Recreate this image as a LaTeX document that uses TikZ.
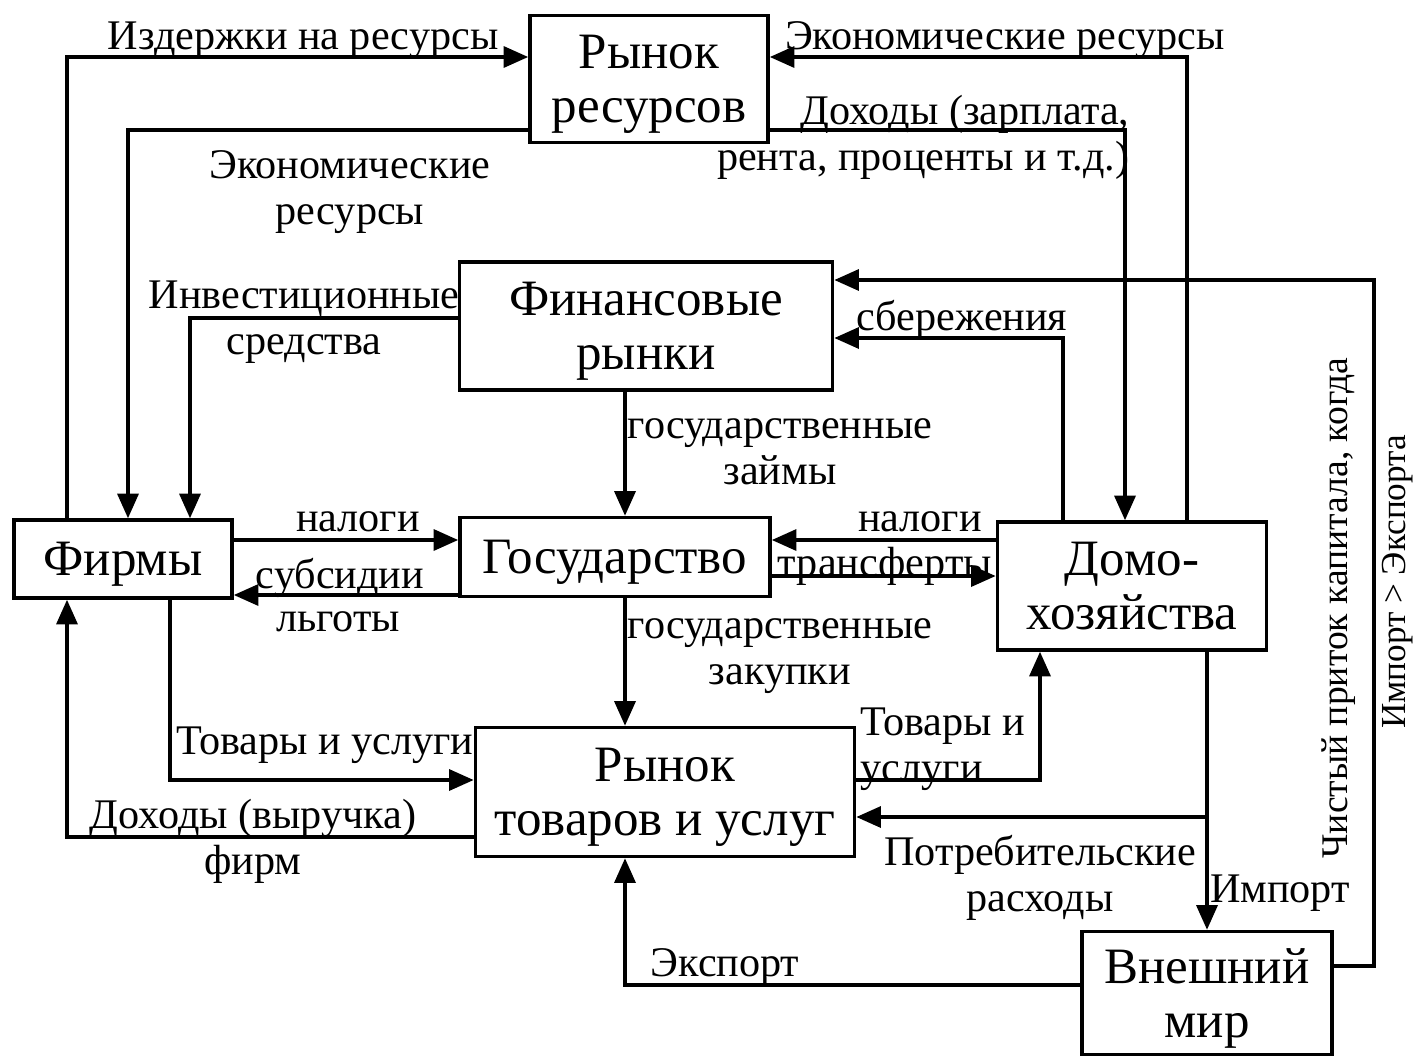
\documentclass[tikz,border=0pt]{standalone}
\usepackage{fontspec}
\setmainfont{Liberation Serif}
\usetikzlibrary{arrows.meta}

\begin{document}
\begin{tikzpicture}[x=0.01cm,y=-0.01cm,
  box/.style={draw,line width=1pt,align=center,inner sep=0pt,text depth=-4pt,font=\fontsize{14.5}{15.5}\selectfont},
  flow/.style={line width=0.9pt,-{Triangle[length=7pt,width=6pt]}},
  lbl/.style={align=center,inner sep=0pt,font=\fontsize{12}{13}\selectfont},
  side/.style={inner sep=0pt,rotate=90,font=\fontsize{10.7}{12}\selectfont}]
\useasboundingbox (0,0) rectangle (1418,1057);
% Markets and sectors
\node[box,minimum width=2.38cm,minimum height=1.27cm] (resmkt) at (649,79) {Рынок\\ресурсов};
\node[box,minimum width=3.73cm,minimum height=1.28cm] (finmkt) at (646,326) {Финансовые\\рынки};
\node[box,minimum width=2.18cm,minimum height=0.78cm] (firms) at (123,559) {Фирмы};
\node[box,minimum width=3.10cm,minimum height=0.79cm] (gov) at (615,557) {Государство};
\node[box,minimum width=2.69cm,minimum height=1.28cm] (house) at (1132,586) {Домо-\\хозяйства};
\node[box,minimum width=3.79cm,minimum height=1.29cm] (goods) at (665,792) {Рынок\\товаров и услуг};
\node[box,minimum width=2.50cm,minimum height=1.23cm] (world) at (1207,993) {Внешний\\мир};
% Bends of the flows
\coordinate (b1) at (67,57);
\coordinate (b2) at (128,130);
\coordinate (b3) at (1187,57);
\coordinate (b4) at (1125,130);
\coordinate (b5) at (190,318);
\coordinate (b6) at (1063,338);
\coordinate (b7) at (1374,966);
\coordinate (b8) at (1374,280);
\coordinate (mid) at (625,0);
\coordinate (t1) at (0,540);
\coordinate (t2) at (0,595);
\coordinate (t3) at (0,576);
\coordinate (b9) at (170,780);
\coordinate (b10) at (67,837);
\coordinate (b11) at (1040,780);
\coordinate (b12) at (1207,817);
\coordinate (b13) at (625,985);
% Resource market
\draw[flow] (firms.north -| b1) |- (resmkt.west |- b1);
\draw[flow] (resmkt.west |- b2) -| (firms.north -| b2);
\draw[flow] (house.north -| b3) |- (resmkt.east |- b3);
\draw[flow] (resmkt.east |- b4) -| (house.north -| b4);
% Financial markets
\draw[flow] (finmkt.west |- b5) -| (firms.north -| b5);
\draw[flow] (house.north -| b6) |- (finmkt.east |- b6);
\draw[flow] (world.east |- b7) -- (b7) -- (b8) -- (finmkt.east |- b8);
\draw[flow] (finmkt.south -| mid) -- (gov.north -| mid);
% Government
\draw[flow] (firms.east |- t1) -- (gov.west |- t1);
\draw[flow] (gov.west |- t2) -- (firms.east |- t2);
\draw[flow] (house.west |- t1) -- (gov.east |- t1);
\draw[flow] (gov.east |- t3) -- (house.west |- t3);
\draw[flow] (gov.south -| mid) -- (goods.north -| mid);
% Goods market
\draw[flow] (firms.south -| b9) |- (goods.west |- b9);
\draw[flow] (goods.west |- b10) -| (firms.south -| b10);
\draw[flow] (goods.east |- b11) -| (house.south -| b11);
\draw[flow] (house.south -| b12) |- (goods.east |- b12);
\draw[flow] (b12) -- (world.north -| b12);
\draw[flow] (world.west |- b13) -| (goods.south -| b13);
% Labels of the flows
\node[lbl] at (303,40) {Издержки на ресурсы};
\node[lbl] at (1005,40) {Экономические ресурсы};
\node[lbl,align=right,anchor=east] at (1130,137) {Доходы (зарплата,\\рента, проценты и т.д.)};
\node[lbl] at (350,192) {Экономические\\ресурсы};
\node[lbl] at (304,322) {Инвестиционные\\средства};
\node[lbl] at (962,320) {сбережения};
\node[lbl] at (780,452) {государственные\\займы};
\node[lbl] at (358,522) {налоги};
\node[lbl] at (340,578) {субсидии};
\node[lbl] at (338,622) {льготы};
\node[lbl] at (920,522) {налоги};
\node[lbl] at (885,566) {трансферты};
\node[lbl] at (780,656) {государственные\\закупки};
\node[lbl] at (325,745) {Товары и услуги};
\node[lbl] at (253,841) {Доходы (выручка)\\фирм};
\node[lbl,align=left,anchor=west] at (860,749) {Товары и\\услуги};
\node[lbl] at (1040,878) {Потребительские\\расходы};
\node[lbl] at (1280,893) {Импорт};
\node[lbl] at (725,967) {Экспорт};
\node[side] at (1339,608) {Чистый приток капитала, когда};
\node[side,font=\fontsize{10}{12}\selectfont] at (1398,582) {Импорт > Экспорта};
\end{tikzpicture}
\end{document}
